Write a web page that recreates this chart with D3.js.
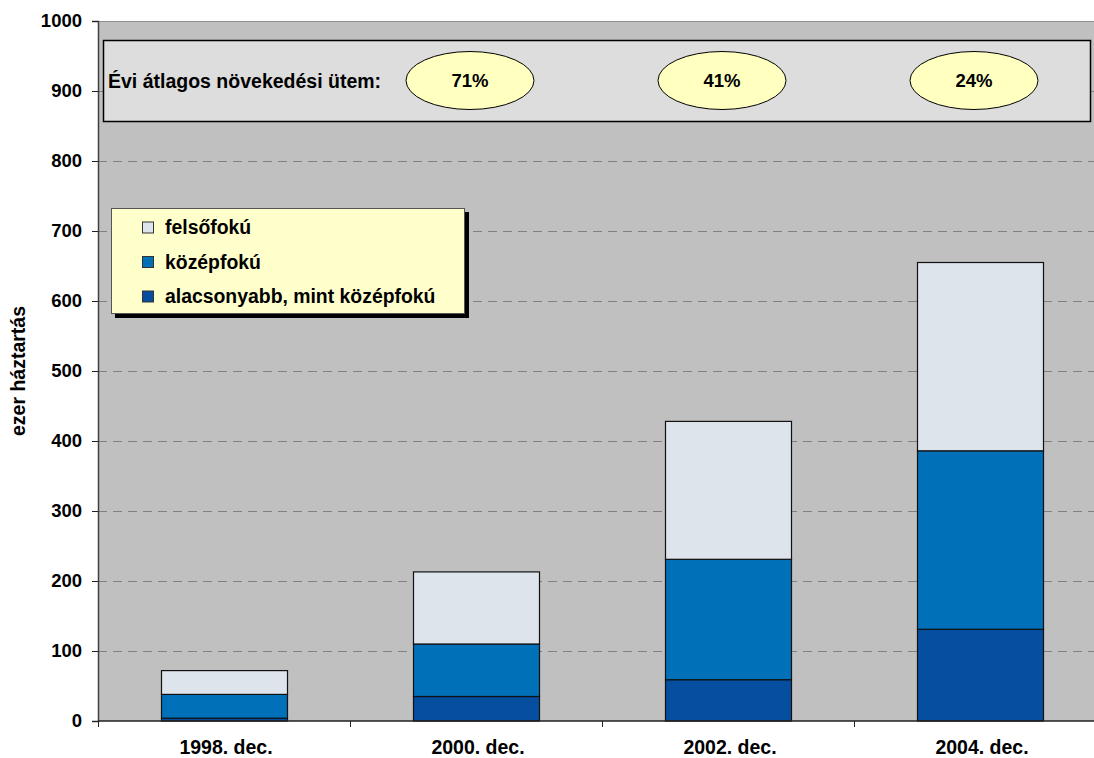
<!DOCTYPE html>
<html>
<head>
<meta charset="utf-8">
<script src="https://cdn.jsdelivr.net/npm/d3@7"></script>
<style>
  html, body { margin: 0; padding: 0; background: #ffffff; }
  svg { display: block; font-family: "Liberation Sans", Arial, sans-serif; }
</style>
</head>
<body>
<svg id="chart" width="1094" height="758"></svg>
<script>
// Households (thousands) by education level of head, stacked
const categories = ["1998. dec.", "2000. dec.", "2002. dec.", "2004. dec."];
const lowerEdu  = [4, 35, 59, 131];     // alacsonyabb, mint középfokú
const secondary = [34, 75, 172, 255];   // középfokú
const tertiary  = [34, 103, 197, 269];  // felsőfokú
const seriesNames = ["alacsonyabb, mint középfokú", "középfokú", "felsőfokú"];
const yTicks = [0, 100, 200, 300, 400, 500, 600, 700, 800, 900, 1000];
const growthRates = ["71%", "41%", "24%"];
const growthLabel = "Évi átlagos növekedési ütem:";
const yTitle = "ezer háztartás";

const colors = ["#064ea0", "#0070b8", "#dde4ec"];

const svg = d3.select("#chart");
const margin = { left: 98, top: 21, bottom: 37 };
const bandStep = 252;
const plotW = bandStep * categories.length;
const plotH = 758 - margin.top - margin.bottom;

const x = d3.scaleBand().domain(categories).range([margin.left, margin.left + plotW]).paddingInner(0.5).paddingOuter(0.25);
const y = d3.scaleLinear().domain([0, 1000]).range([margin.top + plotH, margin.top]);

// plot background
svg.append("rect")
  .attr("x", margin.left).attr("y", margin.top)
  .attr("width", plotW).attr("height", plotH)
  .attr("fill", "#c0c0c0");
svg.append("line")
  .attr("x1", margin.left).attr("x2", margin.left + plotW)
  .attr("y1", margin.top + 0.5).attr("y2", margin.top + 0.5)
  .attr("stroke", "#909090");

// dashed gridlines
svg.append("g").selectAll("line")
  .data(yTicks.filter(t => t > 0 && t < 1000))
  .join("line")
  .attr("x1", margin.left).attr("x2", margin.left + plotW)
  .attr("y1", d => Math.round(y(d)) + 0.5).attr("y2", d => Math.round(y(d)) + 0.5)
  .attr("stroke", "#808080").attr("stroke-dasharray", "9,6");

// stacked bars
const rows = categories.map((c, i) => ({ cat: c, s0: lowerEdu[i], s1: secondary[i], s2: tertiary[i] }));
const stack = d3.stack().keys(["s0", "s1", "s2"])(rows);
svg.append("g").selectAll("g")
  .data(stack)
  .join("g")
  .attr("fill", (d, i) => colors[i])
  .selectAll("rect")
  .data(d => d)
  .join("rect")
  .attr("x", d => x(d.data.cat) + 0.5)
  .attr("width", x.bandwidth())
  .attr("y", d => y(d[1]))
  .attr("height", d => y(d[0]) - y(d[1]))
  .attr("stroke", "#111")
  .attr("stroke-width", 1.2);

// y axis
const yAxis = svg.append("g")
  .attr("transform", `translate(${margin.left},0)`)
  .call(d3.axisLeft(y).tickValues(yTicks).tickFormat(d3.format("d")).tickSize(6).tickPadding(10));
yAxis.select(".domain").attr("stroke", "#404040").attr("stroke-width", 1.5);
yAxis.selectAll(".tick line").attr("stroke", "#222");
yAxis.selectAll("text")
  .attr("font-size", 18.5).attr("font-weight", "bold").attr("fill", "#000")
  .attr("font-family", "Liberation Sans, Arial, sans-serif");

// x axis
const xAxisG = svg.append("g").attr("transform", `translate(0,${margin.top + plotH})`);
xAxisG.append("line")
  .attr("x1", margin.left).attr("x2", margin.left + plotW)
  .attr("stroke", "#222").attr("stroke-width", 1.5);
xAxisG.selectAll("line.tk")
  .data(d3.range(categories.length + 1))
  .join("line").attr("class", "tk")
  .attr("x1", i => margin.left + i * bandStep + 0.5).attr("x2", i => margin.left + i * bandStep + 0.5)
  .attr("y1", 0).attr("y2", 6).attr("stroke", "#222");
xAxisG.selectAll("text")
  .data(categories)
  .join("text")
  .attr("x", d => x(d) + x.bandwidth() / 2 + 2)
  .attr("y", 33)
  .attr("text-anchor", "middle")
  .attr("font-size", 19.5).attr("font-weight", "bold")
  .text(d => d);

// y axis title
svg.append("text")
  .attr("transform", `translate(25,${y(500)}) rotate(-90)`)
  .attr("text-anchor", "middle")
  .attr("font-size", 19.5).attr("font-weight", "bold")
  .text(yTitle);

// growth-rate banner
const bannerTop = 40, bannerBot = 121;
svg.append("rect")
  .attr("x", 103.5).attr("y", bannerTop + 0.5)
  .attr("width", 987).attr("height", bannerBot - bannerTop)
  .attr("fill", "#dddddd").attr("stroke", "#000").attr("stroke-width", 1.5);
const bannerMid = (bannerTop + bannerBot) / 2;
svg.append("text")
  .attr("x", 108).attr("y", bannerMid + 7)
  .attr("font-size", 19.5).attr("font-weight", "bold")
  .text(growthLabel);
const ell = svg.append("g").selectAll("g")
  .data(growthRates)
  .join("g")
  .attr("transform", (d, i) => {
    const cx = x(categories[i + 1]) + x.bandwidth() / 2 - 6;
    return `translate(${cx},${bannerMid})`;
  });
ell.append("ellipse")
  .attr("rx", 64).attr("ry", 29)
  .attr("fill", "#ffffc0").attr("stroke", "#000").attr("stroke-width", 1);
ell.append("text")
  .attr("y", 6.5).attr("text-anchor", "middle")
  .attr("font-size", 18.5).attr("font-weight", "bold")
  .text(d => d);

// legend with drop shadow
const lg = svg.append("g").attr("transform", "translate(111,208)");
lg.append("rect").attr("x", 4).attr("y", 4).attr("width", 354).attr("height", 106).attr("fill", "#000");
lg.append("rect").attr("x", 0.5).attr("y", 0.5).attr("width", 353).attr("height", 105)
  .attr("fill", "#ffffcc").attr("stroke", "#555").attr("stroke-width", 1);
const legendOrder = [2, 1, 0];
const li = lg.selectAll("g.item")
  .data(legendOrder)
  .join("g").attr("class", "item")
  .attr("transform", (d, i) => `translate(31,${19.5 + i * 34.5})`);
li.append("rect")
  .attr("x", 0.5).attr("y", -5.5).attr("width", 11).attr("height", 11)
  .attr("fill", d => colors[d]).attr("stroke", "#333");
li.append("text")
  .attr("x", 23).attr("y", 6.5)
  .attr("font-size", 19.4).attr("font-weight", "bold")
  .text(d => seriesNames[d]);
</script>
</body>
</html>
